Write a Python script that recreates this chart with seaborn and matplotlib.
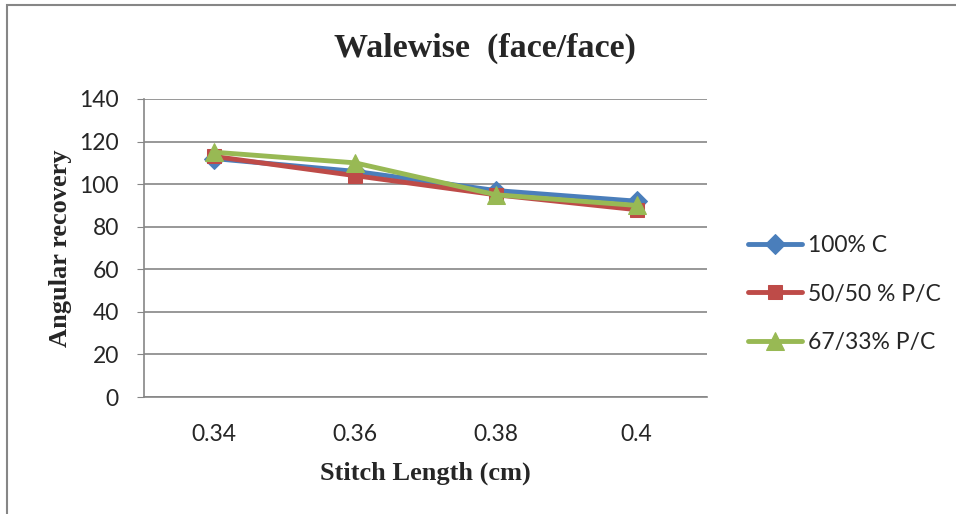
import matplotlib
matplotlib.use("Agg")
import matplotlib.pyplot as plt
import matplotlib.patches as mpatches
import seaborn as sns
import pandas as pd

# Data
stitch_lengths = ["0.34", "0.36", "0.38", "0.4"]
cotton_100 = [112, 106, 97, 92]
pc_50_50 = [113, 104, 95, 88]
pc_67_33 = [115, 110, 95, 90]
series_names = ["100% C", "50/50 % P/C", "67/33% P/C"]
y_ticks = [0, 20, 40, 60, 80, 100, 120, 140]

rows = []
for name, vals in zip(series_names, [cotton_100, pc_50_50, pc_67_33]):
    for x, v in zip(stitch_lengths, vals):
        rows.append({"Stitch Length": x, "Angular recovery": v, "Fabric": name})
df = pd.DataFrame(rows)

sns.set_style("white")
plt.rcParams["font.family"] = ["Lato", "DejaVu Sans"]

fig = plt.figure(figsize=(9.56, 5.14), dpi=100)
ax = fig.add_axes([0.1506, 0.2276, 0.7395 - 0.1506, 0.8074 - 0.2276])

palette = {"100% C": "#4A7EBB", "50/50 % P/C": "#BE4B48", "67/33% P/C": "#98B954"}
markers = {"100% C": "D", "50/50 % P/C": "s", "67/33% P/C": "^"}
sizes = {"100% C": 10.5, "50/50 % P/C": 10.5, "67/33% P/C": 13}

for name in series_names:
    sub = df[df["Fabric"] == name]
    sns.lineplot(data=sub, x="Stitch Length", y="Angular recovery", ax=ax,
                 color=palette[name], marker=markers[name], markersize=sizes[name],
                 markeredgecolor=palette[name], linewidth=3.5, label=name,
                 sort=False)

ax.set_xlim(-0.5, 3.5)
ax.set_ylim(0, 140)
ax.set_yticks(y_ticks)
ax.set_yticklabels([str(t) for t in y_ticks])
ax.yaxis.grid(True, color="#868686", linewidth=1.2)
ax.set_axisbelow(True)
for s in ["top", "right"]:
    ax.spines[s].set_visible(False)
for s in ["left", "bottom"]:
    ax.spines[s].set_color("#868686")
    ax.spines[s].set_linewidth(1.2)
ax.tick_params(axis="y", which="major", length=5, color="#868686", labelsize=16.5, pad=13, left=True)
ax.tick_params(axis="x", which="major", length=0, labelsize=16.5, pad=19.5)

ax.set_xlabel("Stitch Length (cm)", fontfamily="Liberation Serif", fontweight="bold",
              fontsize=19)
ax.xaxis.set_label_coords(0.5, -0.215)
ax.set_ylabel("Angular recovery", fontfamily="Liberation Serif", fontweight="bold",
              fontsize=19)
ax.yaxis.set_label_coords(-0.128, 0.5)
fig.text(0.507, 0.905, "Walewise  (face/face)", ha="center", va="center",
         fontfamily="Liberation Serif", fontweight="bold", fontsize=24.5)

ax.legend(loc="center left", bbox_to_anchor=(0.782, 0.428), bbox_transform=fig.transFigure,
          frameon=False, fontsize=16.5, handlelength=2.36, labelspacing=1.2,
          handletextpad=0.26, borderaxespad=0, borderpad=0)

# outer chart border
fig.patches.append(mpatches.Rectangle((7 / 956, -0.05), 1.1, 1 - 5 / 514 + 0.05,
                                      transform=fig.transFigure, fill=False,
                                      edgecolor="#868686", linewidth=1.5))

fig.savefig("out.png", dpi=100)
